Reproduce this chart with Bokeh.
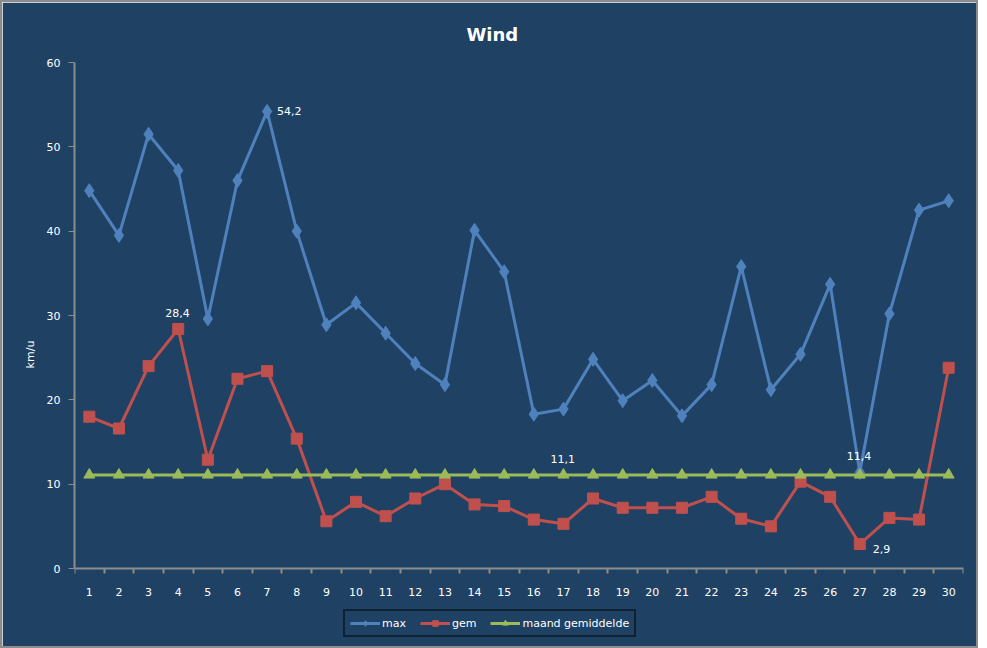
from bokeh.plotting import figure
from bokeh.models import Range1d, FixedTicker, Legend, LegendItem, ColumnDataSource
from bokeh.core.properties import value
from bokeh.embed import file_html
from bokeh.resources import INLINE

days = list(range(1, 31))
wind_max = [44.8, 39.5, 51.5, 47.2, 29.6, 46.0, 54.2, 40.0, 28.9, 31.5,
            27.9, 24.3, 21.8, 40.1, 35.2, 18.3, 18.9, 24.8, 19.9, 22.3,
            18.1, 21.8, 35.8, 21.2, 25.4, 33.7, 11.4, 30.2, 42.5, 43.6]
wind_gem = [18.0, 16.6, 24.0, 28.4, 12.9, 22.5, 23.4, 15.4, 5.6, 7.9,
            6.2, 8.3, 10.0, 7.6, 7.4, 5.8, 5.3, 8.3, 7.2, 7.2,
            7.2, 8.5, 5.9, 5.0, 10.3, 8.5, 2.9, 6.0, 5.8, 23.8]
maand_gem = [11.1, 11.1, 11.1, 11.1, 11.1, 11.1, 11.1, 11.1, 11.1, 11.1,
             11.1, 11.1, 11.1, 11.1, 11.1, 11.1, 11.1, 11.1, 11.1, 11.1,
             11.1, 11.1, 11.1, 11.1, 11.1, 11.1, 11.1, 11.1, 11.1, 11.1]

# data labels: (day, series)
label_days = [7, 4, 17, 27, 27]
label_series = ["max", "gem", "maand", "max", "gem"]

BG = "#1F4264"
BLUE = "#4F81BD"
RED = "#C0504D"
GREEN = "#9BBB59"
GRAY = "#8C8C8C"
FONT = "DejaVu Sans"

# frame reaches down to the bottom so the legend can sit inside it;
# the value axis itself only covers 0..60 over 506 px
FW, FH, AXIS_H = 889, 584, 506
y_lo = -60.0 * (FH - AXIS_H) / AXIS_H

p = figure(frame_width=FW, frame_height=FH, output_backend="svg", toolbar_location=None,
           x_range=Range1d(0.5, 30.5), y_range=Range1d(y_lo, 60),
           min_border_left=72, min_border_right=13, min_border_top=60,
           min_border_bottom=0)
p.background_fill_color = BG
p.border_fill_color = BG
# same colour as the fill, hides the seam round the frame
p.outline_line_color = BG
p.outline_line_width = 2
p.styles = {"border": "2px solid #8C8C8C"}
p.xgrid.grid_line_color = None
p.ygrid.grid_line_color = None

p.title.text = "Wind"
p.title.align = "left"
p.title.offset = 392
p.title.text_color = "white"
p.title.text_font = FONT
p.title.text_font_size = "18px"
p.title.text_font_style = "bold"
p.title.standoff = 36

src = ColumnDataSource(data=dict(day=days, mx=wind_max, gem=wind_gem, mg=maand_gem))

l1 = p.line("day", "mx", source=src, line_color=BLUE, line_width=3)
m1 = p.scatter("day", "mx", source=src, marker="diamond", size=14,
               fill_color=BLUE, line_color=BLUE)
l2 = p.line("day", "gem", source=src, line_color=RED, line_width=3)
m2 = p.scatter("day", "gem", source=src, marker="square", size=11,
               fill_color=RED, line_color=RED)
l3 = p.line("day", "mg", source=src, line_color=GREEN, line_width=3)
m3 = p.scatter("day", "mg", source=src, marker="triangle", size=11,
               fill_color=GREEN, line_color=GREEN)

# data labels
series = {"max": wind_max, "gem": wind_gem, "maand": maand_gem}
lx, ly, lt, xo, yo = [], [], [], [], []
for d, s in zip(label_days, label_series):
    v = series[s][d - 1]
    lx.append(d)
    ly.append(v)
    lt.append(("%.1f" % v).replace(".", ","))
    if s == "max" and d == 7:
        xo.append(10); yo.append(0)
    elif s == "gem" and d == 27:
        xo.append(13); yo.append(5)
    else:
        xo.append(-13); yo.append(-16)
lab = ColumnDataSource(data=dict(x=lx, y=ly, t=lt, xo=xo, yo=yo))
p.text("x", "y", text="t", source=lab, x_offset="xo", y_offset="yo",
       text_color="white", text_font=value(FONT), text_font_size="11px",
       text_baseline="middle", text_align="left")

# axes
for ax in (p.xaxis[0], p.yaxis[0]):
    ax.axis_line_color = GRAY
    ax.axis_line_width = 2
    ax.major_label_text_color = "white"
    ax.major_label_text_font = FONT
    ax.major_label_text_font_size = "11px"

p.yaxis.ticker = FixedTicker(ticks=[0, 10, 20, 30, 40, 50, 60])
p.yaxis.bounds = (0, 60)
p.yaxis.major_tick_line_color = GRAY
p.yaxis.major_tick_out = 6
p.yaxis.major_tick_in = 0
p.yaxis.minor_tick_line_color = None
p.yaxis.axis_label = "km/u"
p.yaxis.axis_label_text_color = "white"
p.yaxis.axis_label_text_font = FONT
p.yaxis.axis_label_text_font_size = "11px"
p.yaxis.axis_label_text_font_style = "normal"
p.yaxis.major_label_standoff = 8
p.yaxis.axis_label_standoff = 7

p.xaxis.fixed_location = 0
p.xaxis.ticker = FixedTicker(ticks=days, minor_ticks=[d - 0.5 for d in days] + [30.5])
p.xaxis.major_tick_line_color = None
p.xaxis.minor_tick_line_color = GRAY
p.xaxis.minor_tick_line_width = 2
p.xaxis.minor_tick_out = 5
p.xaxis.minor_tick_in = 0
p.xaxis.major_label_standoff = 13

legend = Legend(items=[
    LegendItem(label="max", renderers=[l1, m1]),
    LegendItem(label="gem", renderers=[l2, m2]),
    LegendItem(label="maand gemiddelde", renderers=[l3, m3]),
], orientation="horizontal", location=(269, 9))
legend.background_fill_color = BG
legend.background_fill_alpha = 1
legend.border_line_color = "black"
legend.border_line_width = 2
legend.label_text_color = "white"
legend.label_text_font = FONT
legend.label_text_font_size = "11px"
legend.label_height = 14
legend.glyph_width = 30
legend.glyph_height = 14
legend.label_standoff = 2
legend.spacing = 14
legend.padding = 5
legend.margin = 0
p.add_layout(legend, "center")

open("out.html", "w").write(file_html(p, INLINE))
